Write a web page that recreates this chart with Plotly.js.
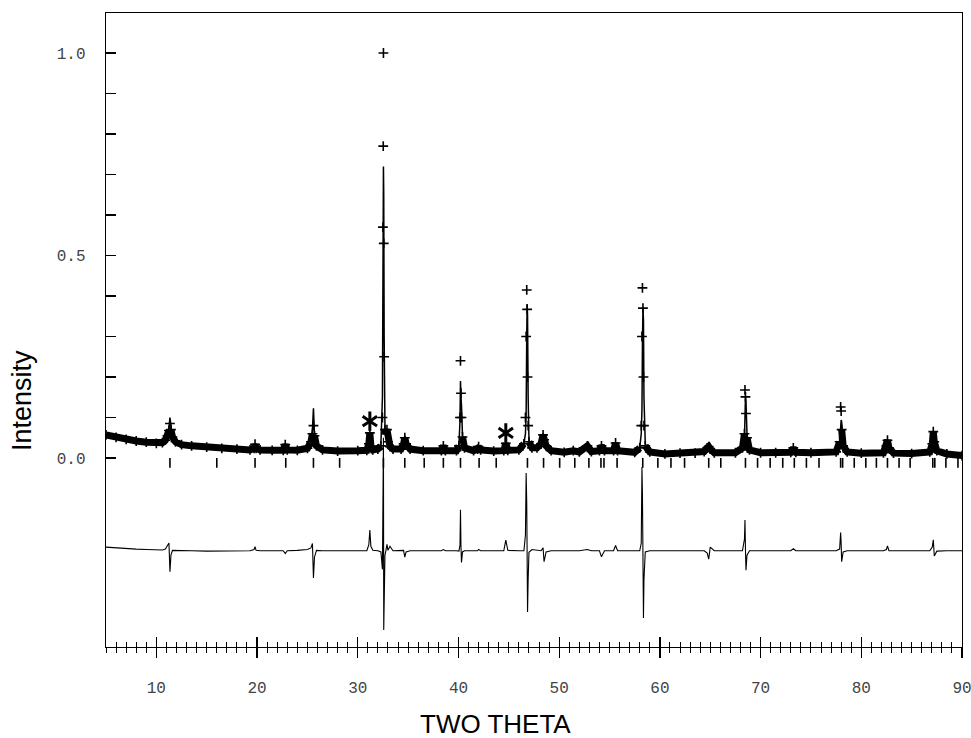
<!DOCTYPE html>
<html>
<head>
<meta charset="utf-8">
<script src="https://cdn.plot.ly/plotly-3.0.1.min.js"></script>
<style>html,body{margin:0;padding:0;background:#fff;}#chart{width:971px;height:738px;}</style>
</head>
<body>
<div id="chart"></div>
<script>
// Two-theta positions of the sampled points
const twoTheta = [
5,6,7,8,9,10,10.6,10.9,11.1,11.25,
11.35,11.45,11.6,11.9,12.5,13.5,15,16.5,18,19.3,
19.7,19.8,19.9,20.3,21.5,22.6,22.8,23,24,25,
25.35,25.5,25.6,25.7,25.9,26.5,28,30,30.9,31.1,
31.2,31.3,31.5,32,32.3,32.45,32.5,32.53,32.55,32.58,
32.62,32.7,32.8,32.9,33,33.2,33.5,34.3,34.55,34.67,
34.8,35.2,36.5,38.3,38.5,38.7,39.8,40.05,40.15,40.2,
40.25,40.3,40.4,40.6,41.5,41.9,42,42.2,43.5,44.5,
44.7,44.9,46,46.5,46.65,46.72,46.78,46.82,46.86,46.92,
47,47.3,47.8,48.2,48.4,48.5,48.7,49.2,50.5,51.4,
52,52.8,53.2,54,54.2,54.5,55.4,55.6,55.8,57.5,
58,58.15,58.22,58.27,58.32,58.37,58.42,58.55,59,60.5,
62,63.5,64.4,64.7,64.85,65,65.4,67.5,68.2,68.4,
68.45,68.5,68.55,68.65,68.9,70,71.5,73,73.25,73.5,
75,77.5,77.85,77.95,78,78.05,78.2,78.6,80,82.2,
82.5,82.6,82.75,83.2,85,86.8,87.05,87.15,87.25,87.5,
88.5,90];

// Observed intensity (crosses)
const yObs = [
.057,.051,.046,.042,.039,.036,.038,.044,.055,.068,
.085,.070,.052,.040,.033,.030,.027,.024,.022,.020,
.024,.034,.024,.020,.019,.019,.033,.020,.019,.024,
.040,.060,.080,.055,.030,.020,.017,.018,.019,.035,
.062,.030,.020,.022,.030,.100,.570,.770,1.000,.530,
.250,.070,.060,.070,.040,.028,.022,.022,.035,.050,
.035,.022,.018,.018,.030,.018,.018,.030,.100,.240,
.160,.100,.052,.025,.018,.022,.028,.020,.017,.018,
.036,.019,.020,.035,.100,.300,.415,.367,.200,.080,
.040,.025,.025,.035,.057,.045,.030,.018,.014,.018,
.015,.030,.016,.018,.030,.018,.018,.037,.018,.014,
.025,.080,.300,.420,.370,.200,.080,.030,.015,.010,
.012,.012,.016,.025,.028,.022,.013,.013,.025,.060,
.168,.151,.110,.050,.020,.013,.013,.014,.025,.014,
.013,.015,.040,.126,.116,.070,.030,.015,.012,.013,
.030,.044,.025,.012,.011,.015,.035,.065,.040,.018,
.010,.006];

// Calculated profile (line)
const yCalc = [
.056,.051,.046,.042,.039,.036,.040,.047,.058,.075,
.100,.074,.053,.040,.033,.030,.027,.024,.022,.020,
.024,.031,.024,.020,.019,.020,.036,.021,.019,.025,
.042,.070,.123,.060,.030,.020,.017,.018,.019,.020,
.020,.020,.020,.023,.035,.150,.500,.680,.720,.650,
.300,.080,.055,.050,.040,.027,.022,.022,.035,.055,
.036,.022,.018,.018,.030,.018,.018,.035,.090,.190,
.150,.130,.055,.025,.018,.022,.027,.020,.017,.017,
.018,.018,.020,.035,.060,.110,.300,.380,.350,.150,
.045,.025,.025,.035,.060,.055,.032,.018,.014,.018,
.015,.030,.016,.018,.033,.018,.018,.032,.018,.014,
.025,.060,.120,.280,.370,.340,.150,.035,.015,.010,
.012,.012,.016,.030,.035,.020,.013,.013,.025,.050,
.090,.150,.140,.060,.020,.013,.013,.014,.025,.014,
.013,.015,.035,.080,.094,.090,.032,.015,.012,.013,
.028,.035,.025,.012,.011,.015,.030,.045,.045,.018,
.010,.006];

// Difference curve (obs - calc), drawn with its offset
const yDiff = [
-.220,-.222,-.224,-.225,-.226,-.226,-.227,-.225,-.217,-.210,
-.281,-.240,-.228,-.228,-.229,-.229,-.230,-.230,-.229,-.229,
-.226,-.219,-.228,-.229,-.229,-.229,-.236,-.229,-.228,-.226,
-.222,-.211,-.296,-.245,-.228,-.229,-.229,-.229,-.229,-.214,
-.178,-.218,-.228,-.229,-.232,-.275,-.158,-.100,.050,-.425,
-.280,-.240,-.228,-.213,-.228,-.218,-.229,-.229,-.228,-.245,
-.232,-.229,-.229,-.229,-.226,-.229,-.229,-.230,-.215,-.128,
-.220,-.258,-.232,-.229,-.229,-.229,-.226,-.229,-.229,-.229,
-.203,-.228,-.229,-.229,-.190,-.037,-.110,-.240,-.380,-.300,
-.233,-.226,-.228,-.229,-.222,-.256,-.232,-.229,-.229,-.228,
-.229,-.226,-.229,-.229,-.244,-.229,-.229,-.216,-.229,-.229,
-.229,-.210,-.022,-.090,-.228,-.395,-.300,-.232,-.229,-.229,
-.229,-.229,-.229,-.235,-.250,-.220,-.229,-.229,-.229,-.200,
-.153,-.228,-.277,-.240,-.229,-.229,-.229,-.229,-.224,-.229,
-.229,-.229,-.225,-.184,-.210,-.256,-.232,-.229,-.229,-.229,
-.226,-.217,-.229,-.229,-.229,-.229,-.220,-.202,-.242,-.230,
-.229,-.229];

// Bragg reflection positions (tick row under the pattern)
const braggPos = [11.35,16.0,19.8,22.85,25.6,28.2,32.55,34.67,36.6,38.5,
40.2,42.05,43.75,46.85,48.45,50.05,51.55,52.95,54.15,54.45,
55.75,58.3,59.8,61.1,62.45,64.85,66.05,68.5,69.7,70.95,
72.2,73.35,74.55,75.8,77.95,78.15,79.3,80.45,81.5,82.6,
83.75,84.85,87.1,87.3,88.4,89.6];
const braggLevel = braggPos.map(() => -0.012);

// Impurity peaks marked with asterisks
const impurityX = [31.2, 44.7];
const impurityY = [0.091, 0.062];

// Axis tick labels
const xTickVals = [10, 20, 30, 40, 50, 60, 70, 80, 90];
const xTickText = ['10', '20', '30', '40', '50', '60', '70', '80', '90'];
const yTickVals = [0, 0.5, 1.0];
const yTickText = ['0.0', '0.5', '1.0'];
const yMinorVals = [0.1,0.2,0.3,0.4,0.6,0.7,0.8,0.9];

// The dense observed crosses merge into a dark band at low intensity;
// that band is drawn as a thick line through the same observed points.
const bandLimit = 0.07;
const yObsBand = yObs.map(v => (v <= bandLimit ? v : null));

const traces = [
  {x: twoTheta, y: yObsBand, type: 'scatter', mode: 'lines', connectgaps: false,
   line: {color: '#000', width: 7}, hoverinfo: 'skip'},
  {x: twoTheta, y: yObs, type: 'scatter', mode: 'markers',
   marker: {symbol: 'cross-thin-open', size: 7, color: '#000', line: {color: '#000', width: 1.6}},
   hoverinfo: 'skip'},
  {x: twoTheta, y: yCalc, type: 'scatter', mode: 'lines',
   line: {color: '#000', width: 1.5}, hoverinfo: 'skip'},
  {x: twoTheta, y: yDiff, type: 'scatter', mode: 'lines',
   line: {color: '#000', width: 1.1}, hoverinfo: 'skip'},
  {x: braggPos, y: braggLevel, type: 'scatter', mode: 'markers', xaxis: 'x2',
   marker: {symbol: 'line-ns-open', size: 7, color: '#000', line: {color: '#000', width: 1.6}},
   hoverinfo: 'skip'},
  {x: impurityX, y: impurityY, type: 'scatter', mode: 'markers',
   marker: {symbol: 'y-up-open', size: 12, color: '#000', line: {color: '#000', width: 3}}, hoverinfo: 'skip'},
  {x: impurityX, y: impurityY, type: 'scatter', mode: 'markers',
   marker: {symbol: 'y-down-open', size: 12, color: '#000', line: {color: '#000', width: 3}}, hoverinfo: 'skip'}
];

const tickFont = {family: 'Liberation Mono, DejaVu Sans Mono, monospace', size: 16, color: '#444'};

const layout = {
  width: 971, height: 738,
  margin: {l: 106, r: 9, t: 13, b: 91},
  paper_bgcolor: '#fff', plot_bgcolor: '#fff',
  showlegend: false,
  xaxis: {
    range: [5, 90.001], tickmode: 'array', tickvals: xTickVals, ticktext: xTickText,
    ticks: 'outside', ticklen: 10, tickwidth: 1.3, tickcolor: '#000',
    minor: {tickmode: 'linear', tick0: 0, dtick: 1, ticks: 'outside', ticklen: 5, tickwidth: 1, tickcolor: '#000'},
    showline: true, linecolor: '#000', linewidth: 1.3, mirror: true,
    showgrid: false, zeroline: false, ticklabeloverflow: 'allow',
    tickfont: tickFont, ticklabelstandoff: 15
  },
  xaxis2: {
    overlaying: 'x', matches: 'x', anchor: 'y', side: 'bottom',
    range: [5, 90.001], tickmode: 'array', tickvals: xTickVals,
    ticks: 'inside', ticklen: 10, tickwidth: 1.3, tickcolor: '#000',
    minor: {tickmode: 'linear', tick0: 0, dtick: 1, ticks: 'inside', ticklen: 5, tickwidth: 1, tickcolor: '#000'},
    showticklabels: false, showline: false, showgrid: false, zeroline: false
  },
  yaxis: {
    range: [-0.4667, 1.0988], tickmode: 'array', tickvals: yTickVals, ticktext: yTickText,
    ticks: 'inside', ticklen: 10, tickwidth: 1.3, tickcolor: '#000',
    minor: {tickmode: 'array', tickvals: yMinorVals, ticks: 'inside', ticklen: 10, tickwidth: 1.1, tickcolor: '#000'},
    showline: true, linecolor: '#000', linewidth: 1.3, mirror: true,
    showgrid: false, zeroline: false,
    tickfont: tickFont, ticklabelstandoff: 16
  },
  annotations: [
    {text: 'Intensity', xref: 'paper', yref: 'paper', x: -0.098, y: 0.388,
     textangle: -90, showarrow: false, xanchor: 'center', yanchor: 'middle',
     font: {family: 'Liberation Sans, Arial, sans-serif', size: 27, color: '#000'}},
    {text: 'TWO THETA', xref: 'paper', yref: 'paper', x: 0.455, y: -0.121,
     showarrow: false, xanchor: 'center', yanchor: 'middle',
     font: {family: 'Liberation Sans, Arial, sans-serif', size: 26, color: '#000'}}
  ]
};

Plotly.newPlot('chart', traces, layout, {staticPlot: true, displayModeBar: false});
</script>
</body>
</html>
